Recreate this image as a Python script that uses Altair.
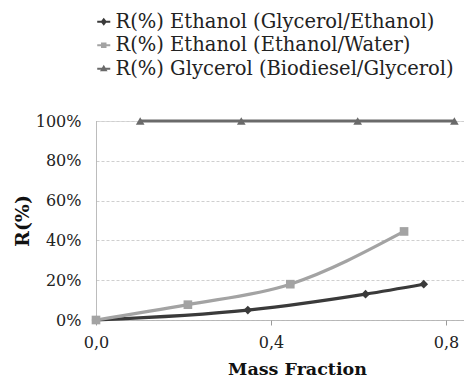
import altair as alt
import pandas as pd

s1 = "R(%) Ethanol (Glycerol/Ethanol)"
s2 = "R(%) Ethanol (Ethanol/Water)"
s3 = "R(%) Glycerol (Biodiesel/Glycerol)"
series_names = [s1, s2, s3]

x1 = [0.0, 0.347, 0.616, 0.749]
y1 = [0.0, 0.05, 0.13, 0.18]
x2 = [0.0, 0.21, 0.444, 0.704]
y2 = [0.0, 0.077, 0.18, 0.445]
x3 = [0.101, 0.332, 0.598, 0.819]
y3 = [1.0, 1.0, 1.0, 1.0]

rows = []
for name, xs, ys in [(s1, x1, y1), (s2, x2, y2), (s3, x3, y3)]:
    for a, b in zip(xs, ys):
        rows.append({"series": name, "leg": name, "x": a, "y": b})
df = pd.DataFrame(rows)

colors = ["#3a3a3a", "#a3a3a3", "#6a6a6a"]
shapes = ["diamond", "square", "triangle-up"]
# legend symbols: marker with a line stub through it
leg_shapes = [
    "M-1,-0.14L-0.36,-0.14L0,-0.62L0.36,-0.14L1,-0.14L1,0.14L0.36,0.14L0,0.62L-0.36,0.14L-1,0.14Z",
    "M-1,-0.14L-0.42,-0.14L-0.42,-0.42L0.42,-0.42L0.42,-0.14L1,-0.14L1,0.14L0.42,0.14L0.42,0.42L-0.42,0.42L-0.42,0.14L-1,0.14Z",
    "M-1,-0.14L-0.27,-0.14L0,-0.6L0.27,-0.14L1,-0.14L1,0.14L0.43,0.14L0.59,0.4L-0.59,0.4L-0.43,0.14L-1,0.14Z",
]
FONT = "DejaVu Serif"

xenc = alt.X(
    "x:Q",
    scale=alt.Scale(domain=[0, 0.841], nice=False, zero=False),
    axis=alt.Axis(
        values=[0.0, 0.4, 0.8],
        labelExpr="replace(format(datum.value, '.1f'), '.', ',')",
        title="Mass Fraction", titleFont=FONT, titleFontSize=17.5, titleFontWeight="bold",
        titleColor="#111111", titleX=201, titleY=54, titleAlign="center", titleBaseline="alphabetic",
        labelFont=FONT, labelFontSize=16, labelColor="#222222", labelPadding=9,
        labelFlush=False, labelOverlap=False,
        domainColor="#9a9a9a", domainDash=[1, 1], domainWidth=1,
        tickColor="#9a9a9a", tickSize=5, grid=False,
    ),
)
yenc = alt.Y(
    "y:Q",
    scale=alt.Scale(domain=[0, 1], nice=False),
    axis=alt.Axis(
        values=[0, 0.2, 0.4, 0.6, 0.8, 1.0],
        format=".0%",
        title="R(%)", titleFont=FONT, titleFontSize=19, titleFontWeight="bold",
        titleColor="#111111", titlePadding=3,
        labelFont=FONT, labelFontSize=16, labelColor="#222222", labelPadding=15,
        labelFlush=False, labelOverlap=False,
        domainColor="#9a9a9a", domainDash=[1, 1], domainWidth=1,
        tickSize=0,
        grid=True, gridColor="#cfcfcf", gridDash=[3, 2], gridWidth=1,
    ),
)

color_main = alt.Color("series:N", scale=alt.Scale(domain=series_names, range=colors), legend=None)

lines = alt.Chart(df).mark_line(interpolate="monotone", strokeWidth=3.2).encode(
    x=xenc, y=yenc, color=color_main, detail="series:N",
)
points = alt.Chart(df).mark_point(filled=True, size=75, opacity=1).encode(
    x=xenc, y=yenc, color=color_main,
    shape=alt.Shape("series:N", scale=alt.Scale(domain=series_names, range=shapes), legend=None),
)

legend = alt.Legend(
    title=None, orient="none", legendX=-2, legendY=-109,
    labelFont=FONT, labelFontSize=19.5, labelColor="#222222",
    symbolSize=170, symbolStrokeWidth=0, symbolOpacity=1, rowPadding=2.5,
    labelLimit=440, labelOffset=2,
)
legend_layer = alt.Chart(df).mark_point(filled=True).encode(
    x=xenc, y=yenc,
    color=alt.Color("leg:N", scale=alt.Scale(domain=series_names, range=colors), sort=series_names, legend=legend),
    shape=alt.Shape("leg:N", scale=alt.Scale(domain=series_names, range=leg_shapes), sort=series_names, legend=legend),
).transform_filter("false")

chart = (
    alt.layer(lines, points, legend_layer)
    .resolve_scale(color="independent", shape="independent")
    .properties(
        width=368, height=199,
        autosize=alt.AutoSizeParams(type="none"),
        padding={"left": 88, "top": 113, "right": 0, "bottom": 59},
    )
    .configure_view(stroke=None)
    .configure(background="white")
)

chart.save("out.html", embed_options={"renderer": "svg", "actions": False})
